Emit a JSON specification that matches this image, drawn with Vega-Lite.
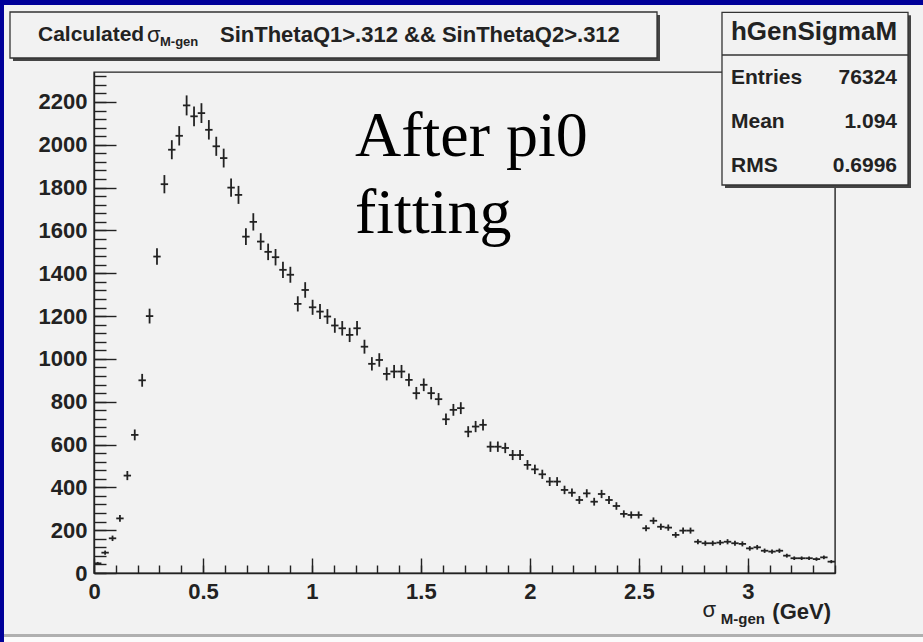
{
"$schema": "https://vega.github.io/schema/vega-lite/v6.json",
"width": 741, "height": 501,
"autosize": {"type": "none"},
"padding": {"left": 94, "top": 72, "right": 88, "bottom": 69},
"background": "#f2f2f2",
"config": {"view": {"stroke": "#222", "strokeWidth": 1.4}, "axis": {"title": null}},
"datasets": {
"hist": [
{"x":0.017,"n":45,"e":6.7},{"x":0.051,"n":95,"e":9.7},{"x":0.085,"n":162,"e":12.7},{"x":0.119,"n":255,"e":16.0},{"x":0.153,"n":455,"e":21.3},{"x":0.187,"n":645,"e":25.4},{"x":0.221,"n":900,"e":30.0},{"x":0.255,"n":1200,"e":34.6},{"x":0.289,"n":1478,"e":38.4},{"x":0.323,"n":1816,"e":42.6},
{"x":0.357,"n":1977,"e":44.5},{"x":0.391,"n":2042,"e":45.2},{"x":0.425,"n":2184,"e":46.7},{"x":0.459,"n":2133,"e":46.2},{"x":0.493,"n":2148,"e":46.3},{"x":0.527,"n":2070,"e":45.5},{"x":0.561,"n":1993,"e":44.6},{"x":0.595,"n":1938,"e":44.0},{"x":0.629,"n":1800,"e":42.4},{"x":0.663,"n":1766,"e":42.0},
{"x":0.697,"n":1571,"e":39.6},{"x":0.731,"n":1640,"e":40.5},{"x":0.765,"n":1548,"e":39.3},{"x":0.799,"n":1500,"e":38.7},{"x":0.833,"n":1475,"e":38.4},{"x":0.867,"n":1416,"e":37.6},{"x":0.901,"n":1393,"e":37.3},{"x":0.935,"n":1257,"e":35.5},{"x":0.969,"n":1322,"e":36.4},{"x":1.003,"n":1241,"e":35.2},
{"x":1.037,"n":1221,"e":34.9},{"x":1.071,"n":1198,"e":34.6},{"x":1.105,"n":1156,"e":34.0},{"x":1.139,"n":1143,"e":33.8},{"x":1.173,"n":1112,"e":33.3},{"x":1.207,"n":1143,"e":33.8},{"x":1.241,"n":1057,"e":32.5},{"x":1.275,"n":977,"e":31.3},{"x":1.309,"n":995,"e":31.5},{"x":1.343,"n":930,"e":30.5},
{"x":1.377,"n":941,"e":30.7},{"x":1.411,"n":941,"e":30.7},{"x":1.445,"n":902,"e":30.0},{"x":1.479,"n":840,"e":29.0},{"x":1.513,"n":879,"e":29.6},{"x":1.547,"n":840,"e":29.0},{"x":1.581,"n":812,"e":28.5},{"x":1.615,"n":718,"e":26.8},{"x":1.649,"n":762,"e":27.6},{"x":1.683,"n":770,"e":27.7},
{"x":1.717,"n":660,"e":25.7},{"x":1.751,"n":684,"e":26.2},{"x":1.785,"n":692,"e":26.3},{"x":1.819,"n":590,"e":24.3},{"x":1.853,"n":590,"e":24.3},{"x":1.887,"n":584,"e":24.2},{"x":1.921,"n":551,"e":23.5},{"x":1.955,"n":551,"e":23.5},{"x":1.989,"n":505,"e":22.5},{"x":2.023,"n":484,"e":22.0},
{"x":2.057,"n":461,"e":21.5},{"x":2.091,"n":427,"e":20.7},{"x":2.125,"n":427,"e":20.7},{"x":2.159,"n":388,"e":19.7},{"x":2.193,"n":375,"e":19.4},{"x":2.227,"n":341,"e":18.5},{"x":2.261,"n":372,"e":19.3},{"x":2.295,"n":333,"e":18.2},{"x":2.329,"n":369,"e":19.2},{"x":2.363,"n":341,"e":18.5},
{"x":2.397,"n":313,"e":17.7},{"x":2.431,"n":276,"e":16.6},{"x":2.465,"n":271,"e":16.5},{"x":2.499,"n":271,"e":16.5},{"x":2.533,"n":209,"e":14.5},{"x":2.567,"n":244,"e":15.6},{"x":2.601,"n":216,"e":14.7},{"x":2.635,"n":212,"e":14.6},{"x":2.669,"n":178,"e":13.3},{"x":2.703,"n":198,"e":14.1},
{"x":2.737,"n":198,"e":14.1},{"x":2.771,"n":146,"e":12.1},{"x":2.805,"n":139,"e":11.8},{"x":2.839,"n":139,"e":11.8},{"x":2.873,"n":142,"e":11.9},{"x":2.907,"n":146,"e":12.1},{"x":2.941,"n":139,"e":11.8},{"x":2.975,"n":136,"e":11.7},{"x":3.009,"n":115,"e":10.7},{"x":3.043,"n":120,"e":11.0},
{"x":3.077,"n":104,"e":10.2},{"x":3.111,"n":100,"e":10.0},{"x":3.145,"n":104,"e":10.2},{"x":3.179,"n":81,"e":9.0},{"x":3.213,"n":69,"e":8.3},{"x":3.247,"n":69,"e":8.3},{"x":3.281,"n":69,"e":8.3},{"x":3.315,"n":65,"e":8.1},{"x":3.349,"n":73,"e":8.5},{"x":3.383,"n":53,"e":7.3}
]
},
"layer": [
{"data": {"name": "hist"}, "mark": {"type": "tick", "orient": "horizontal", "size": 7.4, "thickness": 1.8, "color": "#222", "opacity": 1},
 "encoding": {
  "x": {"field": "x", "type": "quantitative", "scale": {"domain": [0, 3.4], "nice": false, "zero": false},
   "axis": {"values": [0,0.1,0.2,0.3,0.4,0.5,0.6,0.7,0.8,0.9,1,1.1,1.2,1.3,1.4,1.5,1.6,1.7,1.8,1.9,2,2.1,2.2,2.3,2.4,2.5,2.6,2.7,2.8,2.9,3,3.1,3.2,3.3,3.4],
    "tickCount": 200,
    "format": "~g",
    "labelExpr": "abs(datum.value*2-round(datum.value*2))<0.001 ? datum.label : ''",
    "tickSize": -15,
    "tickOpacity": {"condition": {"test": "abs(datum.value*2-round(datum.value*2))<0.001", "value": 1}, "value": 0},
    "grid": true, "gridDash": [0, 493, 8, 20], "gridColor": "#222", "gridWidth": 1.4, "gridOpacity": 1,
    "labelPadding": 23, "title": null, "zindex": 1,
    "domainColor": "#222", "domainWidth": 1.4, "tickColor": "#222", "tickWidth": 1.4,
    "labelFont": "Liberation Sans", "labelFontWeight": "bold", "labelFontSize": 22, "labelColor": "#222",
    "labelFlush": false, "labelOverlap": false, "labelBound": false}},
  "y": {"field": "n", "type": "quantitative", "scale": {"domain": [0, 2340], "nice": false, "zero": false},
   "axis": {"values": [0,40,80,120,160,200,240,280,320,360,400,440,480,520,560,600,640,680,720,760,800,840,880,920,960,1000,1040,1080,1120,1160,1200,1240,1280,1320,1360,1400,1440,1480,1520,1560,1600,1640,1680,1720,1760,1800,1840,1880,1920,1960,2000,2040,2080,2120,2160,2200,2240,2280,2320],
    "tickCount": 200,
    "format": "d",
    "labelExpr": "datum.value % 200 === 0 ? datum.label : ''",
    "tickSize": -22,
    "tickOpacity": {"condition": {"test": "datum.value % 200 === 0", "value": 1}, "value": 0},
    "grid": true, "gridDash": [12, 2000], "gridColor": "#222", "gridWidth": 1.4, "gridOpacity": 1,
    "labelPadding": 29, "title": null, "zindex": 1,
    "domainColor": "#222", "domainWidth": 1.4, "tickColor": "#222", "tickWidth": 1.4,
    "labelFont": "Liberation Sans", "labelFontWeight": "bold", "labelFontSize": 22, "labelColor": "#222",
    "labelFlush": false, "labelOverlap": false, "labelBound": false}}}},
{"data": {"name": "hist"}, "mark": {"type": "errorbar", "color": "#222", "thickness": 1.8},
 "encoding": {"x": {"field": "x", "type": "quantitative", "scale": {"domain": [0, 3.4], "nice": false, "zero": false}},
  "y": {"field": "n", "type": "quantitative", "scale": {"domain": [0, 2340], "nice": false, "zero": false}},
  "yError": {"field": "e"}}},
{"data": {"values": [{}]}, "mark": {"type": "rect", "fill": "#000099"},
 "encoding": {"x": {"datum": -0.4772, "scale": {"domain": [0, 3.4], "nice": false, "zero": false}}, "x2": {"datum": 3.8497},
  "y": {"datum": 2653.0, "scale": {"domain": [0, 2340], "nice": false, "zero": false}}, "y2": {"datum": 2723.0}}},
{"data": {"values": [{}]}, "mark": {"type": "rect", "fill": "#000099"},
 "encoding": {"x": {"datum": -0.4772, "scale": {"domain": [0, 3.4], "nice": false, "zero": false}}, "x2": {"datum": -0.41296},
  "y": {"datum": -369.0, "scale": {"domain": [0, 2340], "nice": false, "zero": false}}, "y2": {"datum": 2723.0}}},
{"data": {"values": [{}]}, "mark": {"type": "rect", "fill": "#b0b0b0"},
 "encoding": {"x": {"datum": -0.41296, "scale": {"domain": [0, 3.4], "nice": false, "zero": false}}, "x2": {"datum": 3.8497},
  "y": {"datum": -284.9, "scale": {"domain": [0, 2340], "nice": false, "zero": false}}, "y2": {"datum": -298.9}}},
{"data": {"values": [{}]}, "mark": {"type": "rect", "fill": "#fbfbfb"},
 "encoding": {"x": {"datum": -0.41296, "scale": {"domain": [0, 3.4], "nice": false, "zero": false}}, "x2": {"datum": 3.8497},
  "y": {"datum": -298.9, "scale": {"domain": [0, 2340], "nice": false, "zero": false}}, "y2": {"datum": -369.0}}},
{"data": {"values": [{}]}, "mark": {"type": "rect", "fill": "#444"},
 "encoding": {"x": {"datum": -0.37166, "scale": {"domain": [0, 3.4], "nice": false, "zero": false}}, "x2": {"datum": 2.5970},
  "y": {"datum": 2391.4, "scale": {"domain": [0, 2340], "nice": false, "zero": false}}, "y2": {"datum": 2606.2}}},
{"data": {"values": [{}]}, "mark": {"type": "rect", "fill": "#f2f2f2", "stroke": "#333", "strokeWidth": 1.3},
 "encoding": {"x": {"datum": -0.38543, "scale": {"domain": [0, 3.4], "nice": false, "zero": false}}, "x2": {"datum": 2.5833},
  "y": {"datum": 2405.4, "scale": {"domain": [0, 2340], "nice": false, "zero": false}}, "y2": {"datum": 2620.2}}},
{"data": {"values": [{}]}, "mark": {"type": "rect", "fill": "#444"},
 "encoding": {"x": {"datum": 2.8953, "scale": {"domain": [0, 3.4], "nice": false, "zero": false}}, "x2": {"datum": 3.7487},
  "y": {"datum": 1798.2, "scale": {"domain": [0, 2340], "nice": false, "zero": false}}, "y2": {"datum": 2604.8}}},
{"data": {"values": [{}]}, "mark": {"type": "rect", "fill": "#f2f2f2", "stroke": "#333", "strokeWidth": 1.3},
 "encoding": {"x": {"datum": 2.8815, "scale": {"domain": [0, 3.4], "nice": false, "zero": false}}, "x2": {"datum": 3.7350},
  "y": {"datum": 1812.2, "scale": {"domain": [0, 2340], "nice": false, "zero": false}}, "y2": {"datum": 2618.8}}},
{"data": {"values": [{}]}, "mark": {"type": "rule", "color": "#333", "strokeWidth": 1.3},
 "encoding": {"x": {"datum": 2.8815, "scale": {"domain": [0, 3.4], "nice": false, "zero": false}}, "x2": {"datum": 3.7350},
  "y": {"datum": 2419.4, "scale": {"domain": [0, 2340], "nice": false, "zero": false}}}},
{"data": {"values": [{}]}, "mark": {"type": "text", "text": "Calculated", "font": "Liberation Sans", "fontWeight": "bold", "fontSize": 21, "align": "left", "baseline": "middle", "color": "#222"},
 "encoding": {"x": {"datum": -0.2570, "scale": {"domain": [0, 3.4], "nice": false, "zero": false}},
  "y": {"datum": 2512.8, "scale": {"domain": [0, 2340], "nice": false, "zero": false}}}},
{"data": {"values": [{}]}, "mark": {"type": "text", "text": "σ", "font": "Liberation Sans", "fontSize": 22, "align": "left", "baseline": "middle", "color": "#222"},
 "encoding": {"x": {"datum": 0.2432, "scale": {"domain": [0, 3.4], "nice": false, "zero": false}},
  "y": {"datum": 2512.8, "scale": {"domain": [0, 2340], "nice": false, "zero": false}}}},
{"data": {"values": [{}]}, "mark": {"type": "text", "text": "M-gen", "font": "Liberation Sans", "fontWeight": "bold", "fontSize": 13, "align": "left", "baseline": "middle", "color": "#222"},
 "encoding": {"x": {"datum": 0.3028, "scale": {"domain": [0, 3.4], "nice": false, "zero": false}},
  "y": {"datum": 2480.0, "scale": {"domain": [0, 2340], "nice": false, "zero": false}}}},
{"data": {"values": [{}]}, "mark": {"type": "text", "text": "SinThetaQ1>.312 && SinThetaQ2>.312", "font": "Liberation Sans", "fontWeight": "bold", "fontSize": 22, "align": "left", "baseline": "middle", "color": "#222"},
 "encoding": {"x": {"datum": 0.5782, "scale": {"domain": [0, 3.4], "nice": false, "zero": false}},
  "y": {"datum": 2512.8, "scale": {"domain": [0, 2340], "nice": false, "zero": false}}}},
{"data": {"values": [{}]}, "mark": {"type": "text", "text": "hGenSigmaM", "font": "Liberation Sans", "fontWeight": "bold", "fontSize": 26, "align": "center", "baseline": "middle", "color": "#222"},
 "encoding": {"x": {"datum": 3.3036, "scale": {"domain": [0, 3.4], "nice": false, "zero": false}},
  "y": {"datum": 2528.2, "scale": {"domain": [0, 2340], "nice": false, "zero": false}}}},
{"data": {"values": [{"t": "Entries", "v": 2310.6}, {"t": "Mean", "v": 2107.9}, {"t": "RMS", "v": 1901.0}]},
 "mark": {"type": "text", "font": "Liberation Sans", "fontWeight": "bold", "fontSize": 21, "align": "left", "baseline": "middle", "color": "#222"},
 "encoding": {"x": {"datum": 2.9228, "scale": {"domain": [0, 3.4], "nice": false, "zero": false}},
  "y": {"field": "v", "type": "quantitative", "scale": {"domain": [0, 2340], "nice": false, "zero": false}},
  "text": {"field": "t"}}},
{"data": {"values": [{"t": "76324", "v": 2310.6}, {"t": "1.094", "v": 2107.9}, {"t": "0.6996", "v": 1901.0}]},
 "mark": {"type": "text", "font": "Liberation Sans", "fontWeight": "bold", "fontSize": 21, "align": "right", "baseline": "middle", "color": "#222"},
 "encoding": {"x": {"datum": 3.6845, "scale": {"domain": [0, 3.4], "nice": false, "zero": false}},
  "y": {"field": "v", "type": "quantitative", "scale": {"domain": [0, 2340], "nice": false, "zero": false}},
  "text": {"field": "t"}}},
{"data": {"values": [{}]}, "mark": {"type": "text", "text": "After pi0\nfitting", "lineBreak": "\n", "lineHeight": 77, "font": "Liberation Serif", "fontSize": 64, "align": "left", "baseline": "alphabetic", "color": "#000"},
 "encoding": {"x": {"datum": 1.1976, "scale": {"domain": [0, 3.4], "nice": false, "zero": false}},
  "y": {"datum": 1947.7, "scale": {"domain": [0, 2340], "nice": false, "zero": false}}}},
{"data": {"values": [{}]}, "mark": {"type": "text", "text": "(GeV)", "font": "Liberation Sans", "fontWeight": "bold", "fontSize": 22, "align": "right", "baseline": "alphabetic", "color": "#222"},
 "encoding": {"x": {"datum": 3.3817, "scale": {"domain": [0, 3.4], "nice": false, "zero": false}},
  "y": {"datum": -214.9, "scale": {"domain": [0, 2340], "nice": false, "zero": false}}}},
{"data": {"values": [{}]}, "mark": {"type": "text", "text": "M-gen", "font": "Liberation Sans", "fontWeight": "bold", "fontSize": 15, "align": "right", "baseline": "alphabetic", "color": "#222"},
 "encoding": {"x": {"datum": 3.0789, "scale": {"domain": [0, 3.4], "nice": false, "zero": false}},
  "y": {"datum": -238.2, "scale": {"domain": [0, 2340], "nice": false, "zero": false}}}},
{"data": {"values": [{}]}, "mark": {"type": "text", "text": "σ", "font": "Liberation Sans", "fontSize": 22, "align": "right", "baseline": "alphabetic", "color": "#222"},
 "encoding": {"x": {"datum": 2.8540, "scale": {"domain": [0, 3.4], "nice": false, "zero": false}},
  "y": {"datum": -205.5, "scale": {"domain": [0, 2340], "nice": false, "zero": false}}}}
]
}
